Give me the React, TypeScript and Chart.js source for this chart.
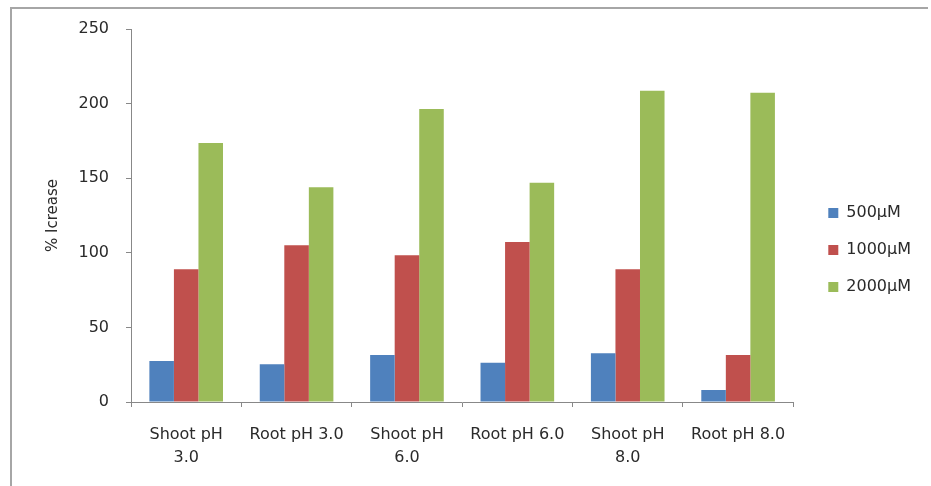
import React, { useEffect, useRef } from 'react';
import { Chart, registerables } from 'chart.js';

Chart.register(...registerables);

const categories: (string | string[])[] = [
  ['Shoot pH', '3.0'],
  'Root pH 3.0',
  ['Shoot pH', '6.0'],
  'Root pH 6.0',
  ['Shoot pH', '8.0'],
  'Root pH 8.0',
];
const seriesNames = ['500µM', '1000µM', '2000µM'];
const values500 = [27.5, 25.3, 31.5, 26.3, 32.6, 8];
const values1000 = [89, 105, 98.3, 107.2, 89, 31.5];
const values2000 = [173.6, 144, 196.4, 147, 208.6, 207.3];
const seriesColors = ['#4F81BD', '#C0504D', '#9BBB59'];
const yMin = 0;
const yMax = 250;
const yStep = 50;
const yTitle = '% Icrease';

const FONT = "'DejaVu Sans', sans-serif";

const framePlugin = {
  id: 'frame',
  beforeDraw(chart: any) {
    const ctx = chart.ctx;
    ctx.save();
    ctx.fillStyle = '#ffffff';
    ctx.fillRect(0, 0, chart.width, chart.height);
    ctx.strokeStyle = '#a6a6a6';
    ctx.lineWidth = 2;
    ctx.beginPath();
    ctx.moveTo(11, chart.height);
    ctx.lineTo(11, 8);
    ctx.lineTo(chart.width - 3, 8);
    ctx.stroke();
    ctx.restore();
  },
};

export default function App() {
  const ref = useRef<HTMLCanvasElement | null>(null);

  useEffect(() => {
    if (!ref.current) return;
    const series = [values500, values1000, values2000];
    const chart = new Chart(ref.current, {
      type: 'bar',
      data: {
        labels: categories,
        datasets: series.map((d, i) => ({
          label: seriesNames[i],
          data: d,
          backgroundColor: seriesColors[i],
          borderWidth: 0,
          barPercentage: 1,
          categoryPercentage: 0.667,
        })),
      },
      plugins: [framePlugin],
      options: {
        responsive: false,
        animation: false,
        layout: { padding: { left: 40, top: 29, right: 10, bottom: 15 } },
        plugins: {
          tooltip: { enabled: false },
          legend: {
            position: 'right',
            labels: {
              boxWidth: 10,
              boxHeight: 10,
              padding: 21,
              color: '#2a2a2a',
              font: { family: FONT, size: 16 },
            },
          },
        },
        scales: {
          x: {
            grid: { display: true, drawOnChartArea: false, drawTicks: true, tickLength: 5, color: '#888', offset: true },
            border: { display: true, color: '#888', width: 1 },
            ticks: {
              color: '#2a2a2a',
              font: { family: FONT, size: 16, lineHeight: 1.44 },
              padding: 16.5,
              maxRotation: 0,
              minRotation: 0,
              autoSkip: false,
            },
            afterFit: (s: any) => { s.height = 69; },
          },
          y: {
            min: yMin,
            max: yMax,
            grid: { display: true, drawOnChartArea: false, drawTicks: true, tickLength: 5, color: '#888' },
            border: { display: true, color: '#888', width: 1 },
            ticks: {
              stepSize: yStep,
              color: '#2a2a2a',
              font: { family: FONT, size: 16 },
              padding: 17,
            },
            title: {
              display: true,
              text: yTitle,
              color: '#2a2a2a',
              font: { family: FONT, size: 15 },
              padding: { top: 4, bottom: 4 },
            },
            afterFit: (s: any) => { s.width = 91; },
          },
          y2: {
            position: 'right',
            display: true,
            grid: { display: false, drawTicks: false },
            border: { display: false },
            ticks: { display: false },
            afterFit: (s: any) => { s.width = 14; },
          },
        },
      },
    });
    return () => chart.destroy();
  }, []);

  return (
    <div style={{ position: 'fixed', left: 0, top: 0, width: 931, height: 486, background: '#fff' }}>
      <canvas ref={ref} width={931} height={486} style={{ display: 'block' }} />
    </div>
  );
}
